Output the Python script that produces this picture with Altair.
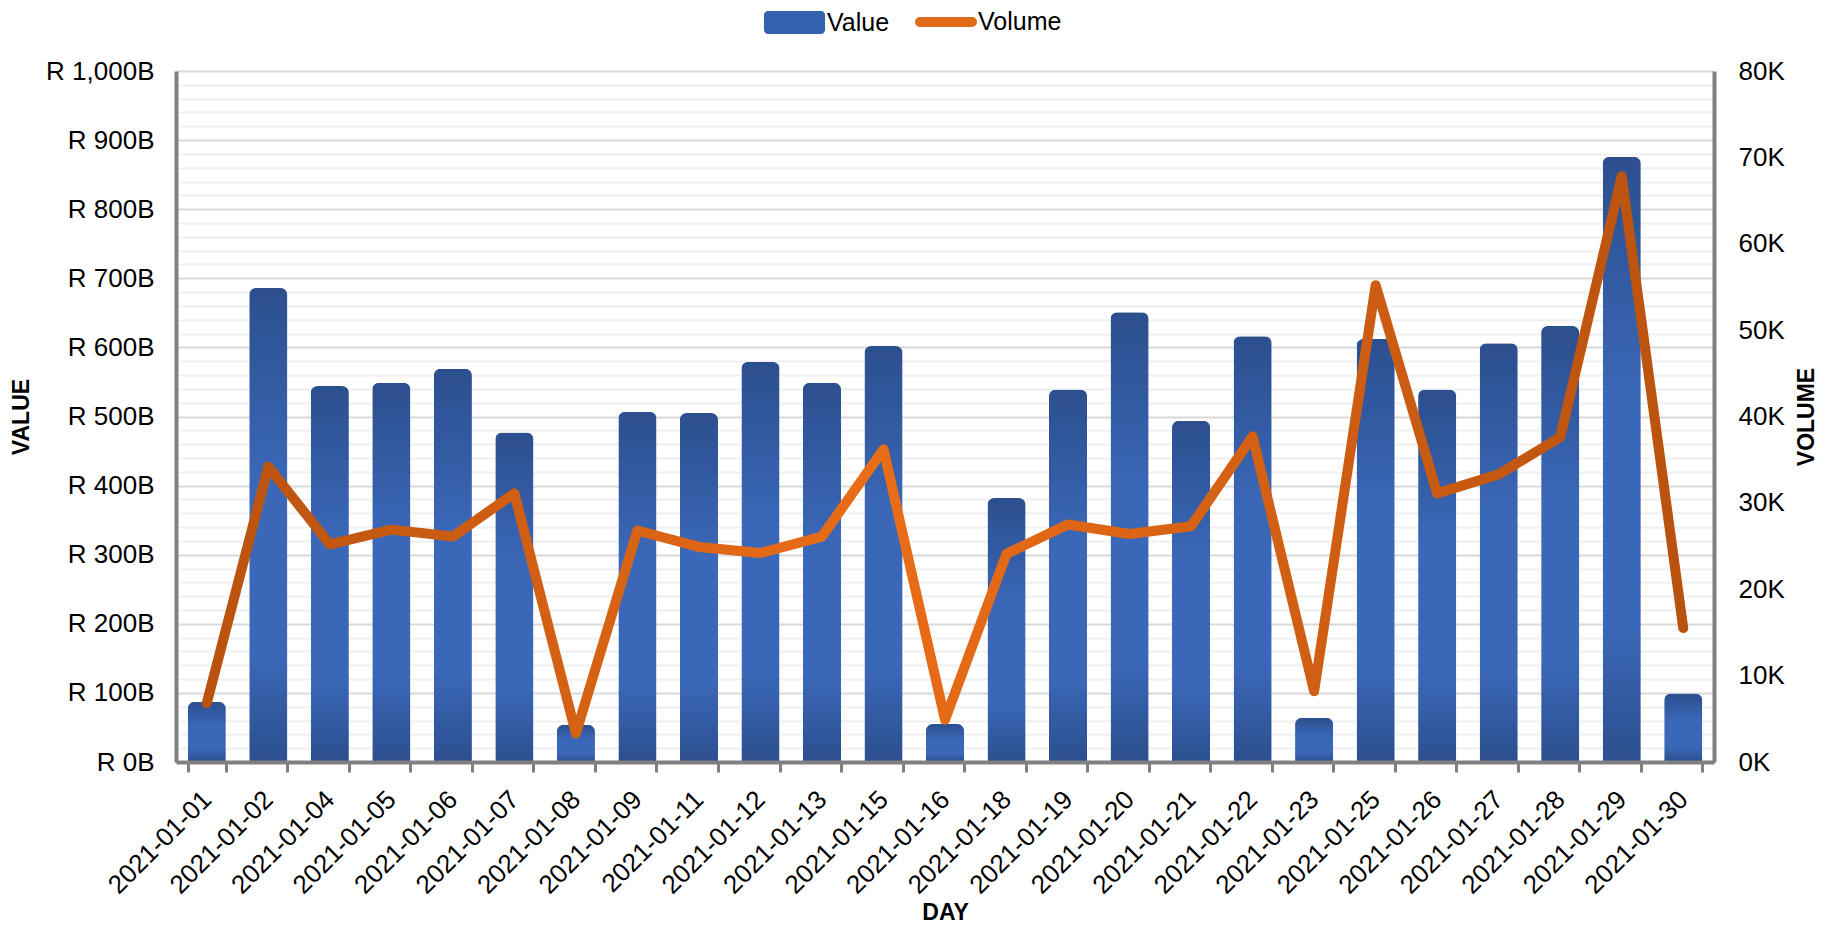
import altair as alt
import pandas as pd

days = ["2021-01-01", "2021-01-02", "2021-01-04", "2021-01-05", "2021-01-06",
        "2021-01-07", "2021-01-08", "2021-01-09", "2021-01-11", "2021-01-12",
        "2021-01-13", "2021-01-15", "2021-01-16", "2021-01-18", "2021-01-19",
        "2021-01-20", "2021-01-21", "2021-01-22", "2021-01-23", "2021-01-25",
        "2021-01-26", "2021-01-27", "2021-01-28", "2021-01-29", "2021-01-30"]
values_b = [87, 686, 544, 549, 569, 477, 54, 507, 505, 579, 549, 602, 55,
            382, 539, 651, 494, 616, 64, 612, 539, 606, 631, 876, 99]
volumes_k = [6.8, 34.2, 25.2, 26.9, 26.1, 31.1, 3.3, 26.8, 24.9, 24.2, 26.1,
             36.2, 4.9, 24.1, 27.5, 26.4, 27.3, 37.7, 8.2, 55.2, 31.1, 33.3,
             37.6, 67.8, 15.5]
series_value = ["Value"]
series_volume = ["Volume"]
value_ticks = list(range(0, 1001, 20))
volume_ticks = list(range(0, 80001, 10000))

df = pd.DataFrame({"day": days, "value": values_b,
                   "volume": [v * 1000 for v in volumes_k]})
legend_value_df = pd.DataFrame({"series": series_value})
legend_volume_df = pd.DataFrame({"series": series_volume})

FONT = "Liberation Sans"
AXIS_GRAY = "#808080"
W, H = 1538, 691
LABEL_SIZE = 26

bar_grad = {"gradient": "linear", "x1": 0, "y1": 0, "x2": 0, "y2": 1,
            "stops": [{"offset": 0, "color": "#2C4F8E"},
                      {"offset": 0.4, "color": "#3A67B7"},
                      {"offset": 0.78, "color": "#3A67B7"},
                      {"offset": 1, "color": "#2C4F8E"}]}
line_grad = {"gradient": "linear", "x1": 0, "y1": 0, "x2": 1, "y2": 0,
             "stops": [{"offset": 0, "color": "#BA520F"},
                       {"offset": 0.45, "color": "#EA6D17"},
                       {"offset": 1, "color": "#BA520F"}]}

x_enc = alt.X(
    "day:N", sort=days, title="DAY",
    scale=alt.Scale(paddingInner=0.38, paddingOuter=0.19),
    axis=alt.Axis(labelAngle=-45, labelAlign="right", labelBaseline="middle",
                  labelFontSize=LABEL_SIZE, labelColor="#000000", labelOverlap=False,
                  labelPadding=23, tickBand="extent", tickSize=10, tickWidth=3,
                  tickColor=AXIS_GRAY, domainColor=AXIS_GRAY, domainWidth=4,
                  grid=False, titleFontSize=23, titleFontWeight="bold",
                  titleColor="#000000", titleY=150, titleBaseline="middle",
                  zindex=1),
)

bars = alt.Chart(df).mark_bar(
    fill=bar_grad, cornerRadiusTopLeft=7, cornerRadiusTopRight=7
).encode(
    x=x_enc,
    y=alt.Y("value:Q", title="VALUE",
            scale=alt.Scale(domain=[0, 1000], nice=False),
            axis=alt.Axis(values=value_ticks,
                          labelExpr="datum.value % 100 === 0 ? 'R ' + format(datum.value, ',') + 'B' : ''",
                          ticks=False, grid=True,
                          gridColor={"condition": {"test": "datum.value % 100 === 0", "value": "#D9D9D9"},
                                     "value": "#F0F0F0"},
                          gridWidth=2, domainColor=AXIS_GRAY, domainWidth=4,
                          labelFontSize=LABEL_SIZE, labelColor="#000000", labelPadding=22,
                          labelOverlap=False, titleFontSize=23, titleFontWeight="bold",
                          titleColor="#000000", titleX=-155, titleBaseline="middle")),
)

line = alt.Chart(df).mark_line(
    stroke=line_grad, strokeWidth=10, strokeCap="round", strokeJoin="round"
).encode(
    x=x_enc,
    y=alt.Y("volume:Q", title="VOLUME",
            scale=alt.Scale(domain=[0, 80000], nice=False),
            axis=alt.Axis(orient="right", values=volume_ticks,
                          labelExpr="format(datum.value / 1000, 'd') + 'K'",
                          ticks=False, grid=False, domainColor=AXIS_GRAY, domainWidth=4,
                          labelFontSize=LABEL_SIZE, labelColor="#000000", labelPadding=24,
                          titleFontSize=23, titleFontWeight="bold", titleColor="#000000",
                          titleAngle=270, titleX=92, titleBaseline="middle")),
)

VALUE_PATH = ("M-0.87,-0.377H0.87A0.13,0.13 0 0 1 1,-0.247V0.247A0.13,0.13 0 0 1 0.87,0.377"
              "H-0.87A0.13,0.13 0 0 1 -1,0.247V-0.247A0.13,0.13 0 0 1 -0.87,-0.377Z")
VOLUME_PATH = "M-0.84,-0.16H0.84A0.16,0.16 0 0 1 0.84,0.16H-0.84A0.16,0.16 0 0 1 -0.84,-0.16Z"

legend_value = alt.Chart(legend_value_df).mark_point(filled=True, opacity=0, size=0).encode(
    color=alt.Color(
        "series:N", title=None,
        scale=alt.Scale(domain=series_value, range=["#3461AE"]),
        legend=alt.Legend(
            orient="none", legendX=588, legendY=-79, direction="horizontal",
            symbolType=VALUE_PATH, symbolSize=3721, symbolOpacity=1, symbolStrokeWidth=0,
            labelFontSize=25, labelColor="#000000", labelOffset=2, padding=0,
        ),
    )
)

legend_volume = alt.Chart(legend_volume_df).mark_point(filled=True, opacity=0, size=0).encode(
    fill=alt.Fill(
        "series:N", title=None,
        scale=alt.Scale(domain=series_volume, range=["#E06A17"]),
        legend=alt.Legend(
            orient="none", legendX=739, legendY=-80, direction="horizontal",
            symbolType=VOLUME_PATH, symbolSize=3844, symbolOpacity=1, symbolStrokeWidth=0,
            labelFontSize=25, labelColor="#000000", labelOffset=1, padding=0,
        ),
    )
)

chart = alt.layer(bars, line, legend_value, legend_volume).resolve_scale(
    y="independent"
).properties(
    width=W, height=H,
    autosize=alt.AutoSizeParams(type="none"),
    padding={"left": 168, "top": 63, "right": 104, "bottom": 163},
).configure_view(
    strokeWidth=0
).configure_axis(
    labelFont=FONT, titleFont=FONT
).configure_legend(
    labelFont=FONT
)

chart.save("out.html", embed_options={"renderer": "svg", "actions": False})
